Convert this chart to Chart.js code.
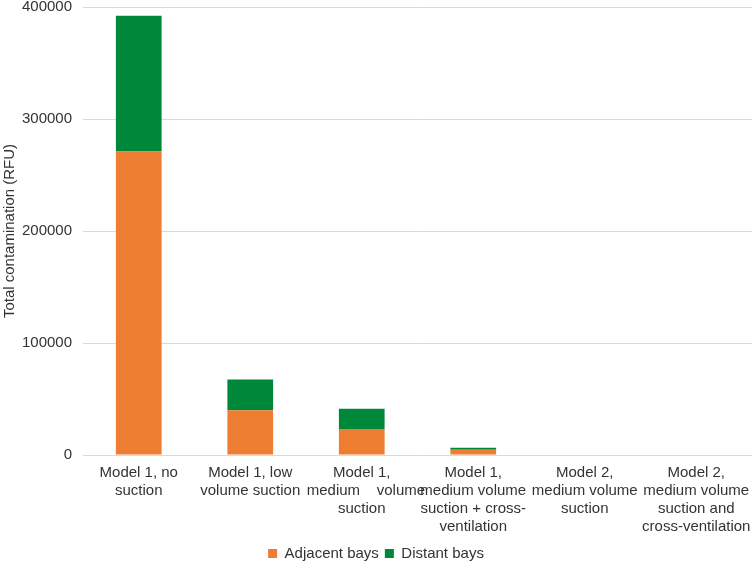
<!DOCTYPE html>
<html>
<head>
<meta charset="utf-8">
<script src="https://cdn.jsdelivr.net/npm/chart.js@4"></script>
<style>
  body { margin: 0; background: #fff; }
  #wrap { width: 754px; height: 563px; }
</style>
</head>
<body>
<div id="wrap"><canvas id="myChart"></canvas></div>
<script>
var categories = [
    ["Model 1, no", "suction"],
    ["Model 1, low", "volume suction"],
    ["Model 1,", "  medium    volume", "suction"],
    ["Model 1,", "medium volume", "suction + cross-", "ventilation"],
    ["Model 2,", "medium volume", "suction"],
    ["Model 2,", "medium volume", "suction and", "cross-ventilation"]
];
var adjacentBays = [271000, 40000, 23300, 4700, 0, 0];
var distantBays = [121200, 27400, 17900, 1800, 0, 0];
var yTicks = [0, 100000, 200000, 300000, 400000];

Chart.defaults.font.family = "'Liberation Sans', Arial, sans-serif";
Chart.defaults.font.size = 15;
Chart.defaults.color = '#333333';

var ctx = document.getElementById('myChart').getContext('2d');
var chart = new Chart(ctx, {
    type: 'bar',
    data: {
        labels: categories,
        datasets: [{
            label: 'Adjacent bays',
            data: adjacentBays,
            backgroundColor: '#ED7D31',
            barPercentage: 0.41,
            categoryPercentage: 1
        }, {
            label: 'Distant bays',
            data: distantBays,
            backgroundColor: '#00883A',
            barPercentage: 0.41,
            categoryPercentage: 1
        }]
    },
    options: {
        responsive: true,
        maintainAspectRatio: false,
        animation: false,
        layout: { padding: { top: 0, right: 2, left: 0, bottom: -8 } },
        plugins: {
            legend: {
                position: 'bottom',
                labels: { boxWidth: 9, boxHeight: 9, padding: 6, color: '#333333' }
            },
            tooltip: { enabled: false }
        },
        scales: {
            x: {
                stacked: true,
                grid: { display: false },
                border: { display: false },
                ticks: { maxRotation: 0, autoSkip: false, padding: 1, font: { lineHeight: 1.2 } },
                afterFit: function(axis) { axis.height = 85; }
            },
            y: {
                stacked: true,
                min: yTicks[0],
                max: yTicks[yTicks.length - 1],
                afterBuildTicks: function(axis) {
                    axis.ticks = yTicks.map(function(v) { return { value: v }; });
                },
                afterFit: function(axis) {
                    axis.width = 83;
                    axis.paddingTop = 7;
                    axis.paddingBottom = 0;
                },
                grid: { color: '#D9D9D9', drawTicks: false },
                border: { display: false },
                ticks: {
                    padding: 11,
                    callback: function(v) { return String(v); }
                },
                title: {
                    display: true,
                    text: 'Total contamination (RFU)',
                    padding: { top: 1, bottom: 2 }
                }
            }
        }
    }
});
</script>
</body>
</html>
